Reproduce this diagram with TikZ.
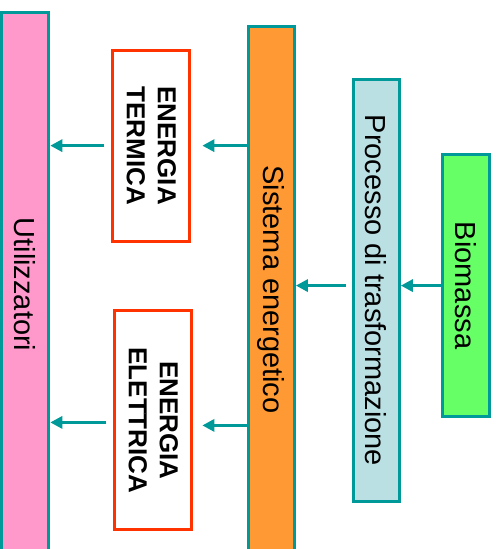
\documentclass[tikz,border=0pt]{standalone}
\usepackage{fontspec}
\setmainfont{Liberation Sans}
\usetikzlibrary{arrows.meta}
\definecolor{bordo}{HTML}{009999}
\definecolor{rosa}{HTML}{FF99CC}
\definecolor{arancio}{HTML}{FF9933}
\definecolor{azzurro}{HTML}{BBE0E3}
\definecolor{verde}{HTML}{66FF66}
\definecolor{rosso}{HTML}{FF3300}
\begin{document}
\begin{tikzpicture}[
    blocco/.style={draw=bordo, line width=3pt, rotate=-90, inner sep=0pt,
        font=\fontsize{29}{34}\selectfont},
    energia/.style={draw=rosso, line width=3pt, fill=white, rotate=-90, inner sep=0pt,
        align=center, font=\fontsize{26}{31}\selectfont\bfseries},
    flusso/.style={draw=bordo, line width=3.6pt, -{Triangle[length=12pt,width=12pt]}}
]
\useasboundingbox (0, 0) rectangle (17.71, 19.30);
\node[blocco, fill=rosa, minimum width=545pt, minimum height=47.5pt]
    (util) at (0.88, 9.30) {Utilizzatori};
\node[blocco, fill=arancio, minimum width=527pt, minimum height=46pt]
    (sis) at (9.54, 9.12) {Sistema energetico};
\node[blocco, fill=azzurro, minimum width=422pt, minimum height=46pt]
    (proc) at (13.23, 9.09) {Processo di trasformazione};
\node[blocco, fill=verde, minimum width=262pt, minimum height=47pt]
    (bio) at (16.38, 9.26) {Biomassa};
\node[energia, minimum width=191pt, minimum height=77pt]
    (term) at (5.32, 14.18) {ENERGIA\\TERMICA};
\node[energia, minimum width=219pt, minimum height=77pt]
    (elet) at (5.39, 4.52) {ENERGIA\\ELETTRICA};

% biomassa -> processo -> sistema
\draw[flusso] (bio.south) -- (bio.south -| proc.north);
\draw[flusso, shorten <=6pt] (proc.south |- bio.south) -- (bio.south -| sis.north);
% sistema -> energie
\draw[flusso, shorten >=11pt] (term.north -| sis.south) -- (term.north);
\draw[flusso, shorten >=9pt] ([yshift=-5pt]elet.north -| sis.south) -- ([yshift=-5pt]elet.north);
% energie -> utilizzatori
\draw[flusso, shorten <=7pt] (term.south) -- (term.south -| util.north);
\draw[flusso, shorten <=7pt] ([yshift=-2pt]elet.south) -- ([yshift=-2pt]elet.south -| util.north);
\end{tikzpicture}
\end{document}
